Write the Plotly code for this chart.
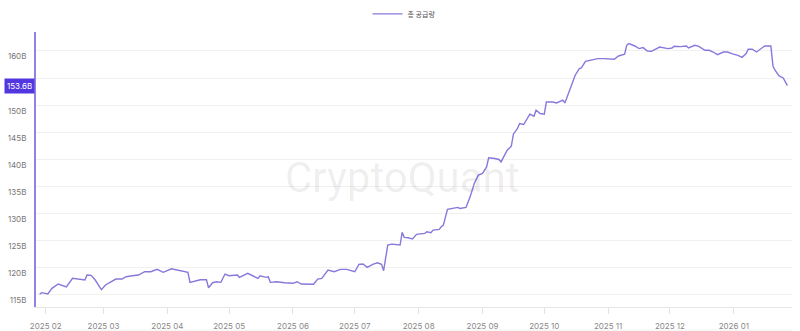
import plotly.graph_objects as go

# Total supply (B)
dates = [
    "2025-01-29", "2025-01-30", "2025-02-02", "2025-02-04", "2025-02-07", "2025-02-11",
    "2025-02-14", "2025-02-17", "2025-02-20", "2025-02-21", "2025-02-23", "2025-02-25",
    "2025-02-28", "2025-03-02", "2025-03-07", "2025-03-10", "2025-03-12", "2025-03-15",
    "2025-03-18", "2025-03-21", "2025-03-24", "2025-03-27", "2025-03-30", "2025-04-03",
    "2025-04-06", "2025-04-09", "2025-04-11", "2025-04-12", "2025-04-17", "2025-04-20",
    "2025-04-21", "2025-04-23", "2025-04-25", "2025-04-27", "2025-04-29", "2025-05-01",
    "2025-05-05", "2025-05-06", "2025-05-10", "2025-05-15", "2025-05-16", "2025-05-19",
    "2025-05-20", "2025-05-21", "2025-05-24", "2025-05-28", "2025-06-01", "2025-06-03",
    "2025-06-05", "2025-06-11", "2025-06-13", "2025-06-15", "2025-06-18", "2025-06-21",
    "2025-06-24", "2025-06-27", "2025-07-01", "2025-07-03", "2025-07-05", "2025-07-07",
    "2025-07-10", "2025-07-12", "2025-07-14", "2025-07-15", "2025-07-17", "2025-07-19",
    "2025-07-23", "2025-07-24", "2025-07-25", "2025-07-27", "2025-07-29", "2025-07-31",
    "2025-08-04", "2025-08-05", "2025-08-07", "2025-08-08", "2025-08-11", "2025-08-12",
    "2025-08-13", "2025-08-15", "2025-08-18", "2025-08-20", "2025-08-21", "2025-08-24",
    "2025-08-26", "2025-08-28", "2025-08-30", "2025-09-01", "2025-09-03", "2025-09-04",
    "2025-09-07", "2025-09-09", "2025-09-10", "2025-09-12", "2025-09-13", "2025-09-15",
    "2025-09-16", "2025-09-18", "2025-09-19", "2025-09-21", "2025-09-22", "2025-09-24",
    "2025-09-26", "2025-09-27", "2025-09-29", "2025-10-01", "2025-10-02", "2025-10-05",
    "2025-10-07", "2025-10-10", "2025-10-11", "2025-10-14", "2025-10-16", "2025-10-18",
    "2025-10-19", "2025-10-21", "2025-10-24", "2025-10-27", "2025-10-30", "2025-11-03",
    "2025-11-04", "2025-11-06", "2025-11-09", "2025-11-10", "2025-11-11", "2025-11-14",
    "2025-11-16", "2025-11-18", "2025-11-20", "2025-11-22", "2025-11-25", "2025-11-26",
    "2025-11-30", "2025-12-02", "2025-12-03", "2025-12-06", "2025-12-09", "2025-12-10",
    "2025-12-13", "2025-12-15", "2025-12-18", "2025-12-20", "2025-12-22", "2025-12-24",
    "2025-12-27", "2025-12-29", "2025-12-31", "2026-01-03", "2026-01-05", "2026-01-07",
    "2026-01-08", "2026-01-10", "2026-01-12", "2026-01-13", "2026-01-16", "2026-01-19",
    "2026-01-20", "2026-01-21", "2026-01-23", "2026-01-25", "2026-01-26", "2026-01-27",
]
supply = [
    115.09, 115.39, 115.15, 116.20, 116.99, 116.44,
    118.04, 117.91, 117.73, 118.65, 118.59, 117.73,
    115.94, 116.81, 117.91, 117.91, 118.34, 118.52,
    118.65, 119.26, 119.26, 119.70, 119.15, 119.81,
    119.57, 119.39, 119.15, 117.30, 117.78, 117.78,
    116.31, 117.23, 117.41, 117.30, 118.83, 118.52,
    118.65, 118.23, 118.96, 118.04, 118.52, 118.23,
    118.34, 117.30, 117.41, 117.23, 117.12, 117.41,
    116.99, 116.94, 117.91, 118.04, 119.57, 119.26,
    119.70, 119.70, 119.26, 120.62, 120.68, 120.07,
    120.68, 120.92, 120.62, 119.44, 124.18, 124.36,
    124.18, 126.52, 125.60, 125.53, 125.29, 126.15,
    126.34, 126.63, 126.45, 126.94, 127.07, 127.55,
    127.87, 130.76, 130.94, 131.13, 130.94, 131.13,
    133.08, 135.55, 137.08, 137.40, 138.61, 140.27,
    140.16, 139.98, 139.53, 141.08, 141.69, 142.43,
    144.64, 145.69, 146.61, 146.43, 147.09, 148.33,
    147.96, 149.06, 148.46, 148.33, 150.59, 150.59,
    150.41, 150.91, 150.41, 153.36, 155.52, 156.75,
    156.86, 158.10, 158.28, 158.59, 158.59, 158.59,
    158.47, 159.07, 159.39, 161.05, 161.36, 160.92,
    160.44, 160.62, 160.00, 159.94, 160.62, 160.73,
    160.44, 160.55, 160.86, 160.81, 160.92, 160.55,
    161.05, 160.86, 160.12, 160.12, 159.81, 159.33,
    159.81, 159.81, 159.52, 159.20, 158.83, 159.52,
    160.31, 160.31, 159.81, 160.12, 160.92, 160.92,
    157.23, 156.44, 155.39, 155.02, 154.28, 153.60,
]
y_ticks = [115, 120, 125, 130, 135, 140, 145, 150, 155, 160]
# the 155B label sits under the current-value badge, as in the reference
y_tick_labels = ["115B", "120B", "125B", "130B", "135B", "140B", "145B", "150B", "", "160B"]
series_name = "총 공급량"
last_label = f"{supply[-1]:.1f}B"

LINE = "#8679dc"
FONT = "Inter, Roboto, 'Noto Sans CJK KR', sans-serif"

fig = go.Figure()
fig.add_trace(go.Scatter(
    x=dates, y=supply, mode="lines", name=series_name,
    line=dict(color=LINE, width=1.4),
))

fig.update_layout(
    width=800, height=331,
    margin=dict(l=36, r=8, t=32, b=24, pad=0, autoexpand=False),
    paper_bgcolor="white", plot_bgcolor="white",
    font=dict(family=FONT, size=8, color="#777"),
    showlegend=True,
    legend=dict(orientation="h", xref="container", yref="container",
                x=0.505, xanchor="center", y=0.958, yanchor="middle",
                font=dict(family="'Noto Sans CJK KR', sans-serif", size=7, color="#555"),
                bgcolor="rgba(0,0,0,0)"),
    xaxis=dict(
        type="date", range=["2025-01-27 06:00", "2026-01-29 06:00"],
        tick0="2025-02-01", dtick="M1", tickformat="%Y %m",
        showgrid=False, zeroline=False,
        showline=True, linecolor="#e6e6e6", linewidth=1,
        ticks="outside", ticklen=6, tickcolor="#e2e2e2",
        ticklabelstandoff=5,
        tickfont=dict(size=8, color="#888"),
        automargin=False,
    ),
    yaxis=dict(
        range=[112.75, 163.5],
        tickvals=y_ticks, ticktext=y_tick_labels,
        showgrid=True, gridcolor="#f1f1f1", gridwidth=1, zeroline=False,
        showline=True, linecolor="#8f84e3", linewidth=2,
        ticks="", ticklabelposition="outside bottom", ticklabelstandoff=6,
        tickfont=dict(size=8, color="#777"),
        automargin=False,
    ),
    annotations=[
        dict(text="CryptoQuant", xref="paper", yref="paper", x=0.485, y=0.47,
             xanchor="center", yanchor="middle", showarrow=False,
             font=dict(family="Roboto, sans-serif", size=42, color="rgba(0,0,0,0.075)")),
        dict(text=last_label, xref="paper", yref="y", x=0, y=supply[-1],
             xanchor="right", yanchor="middle", xshift=-1, showarrow=False,
             bgcolor="#5236e0", borderpad=2,
             font=dict(size=8, color="white")),
    ],
    shapes=[
        dict(type="line", xref="paper", yref="paper", x0=0, x1=1, y0=-0.084, y1=-0.084,
             line=dict(color="#f0f0f0", width=1)),
    ],
)

fig.write_html("out.html")
